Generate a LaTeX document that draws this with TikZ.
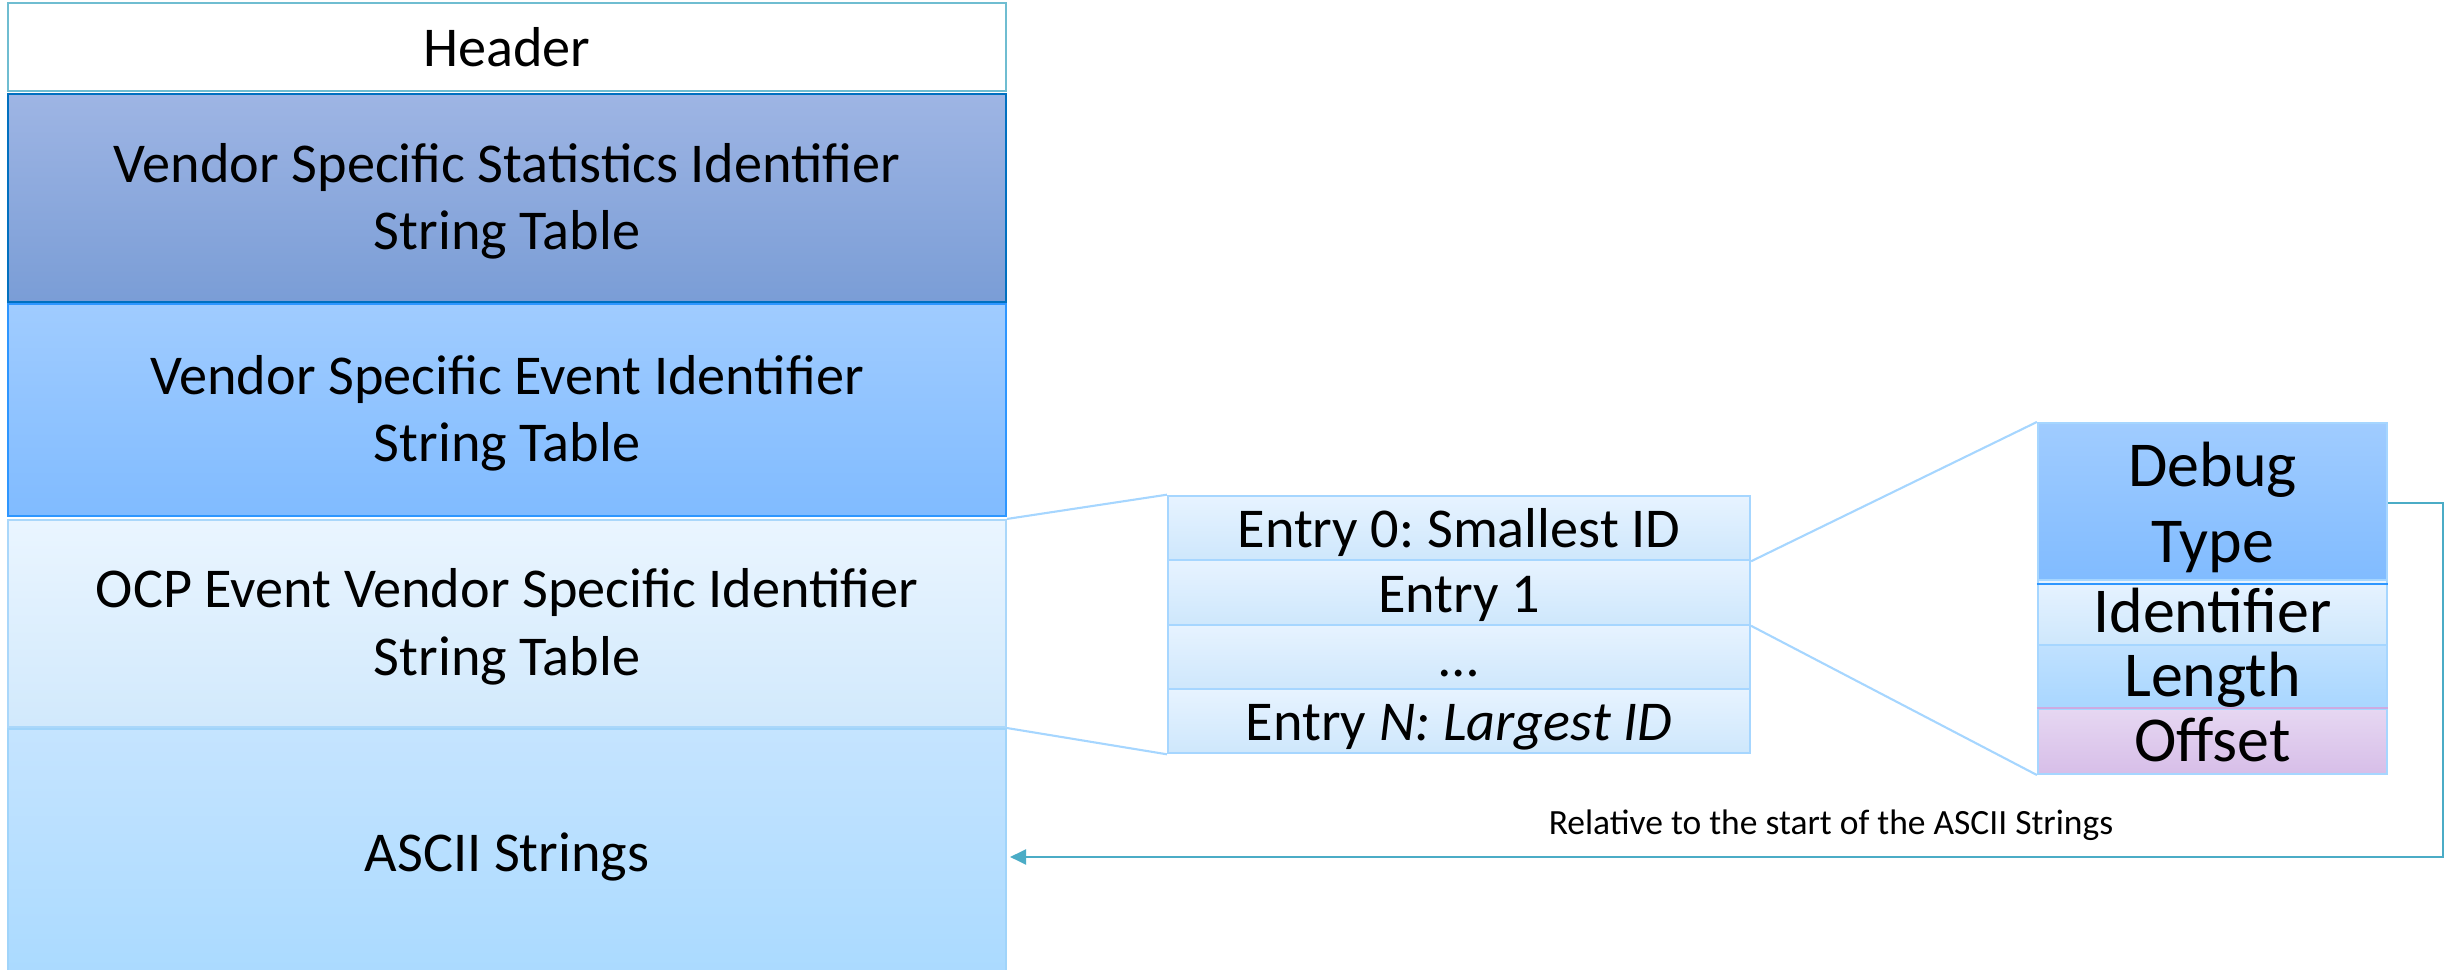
\documentclass[tikz,border=0pt]{standalone}
\usepackage{fontspec}
\setmainfont{Carlito}
\usetikzlibrary{arrows.meta,positioning}
\definecolor{tblTeal}{RGB}{75,172,198}
\definecolor{statTop}{RGB}{158,181,228}
\definecolor{statBot}{RGB}{122,157,214}
\definecolor{statLine}{RGB}{0,112,192}
\definecolor{evtTop}{RGB}{160,204,255}
\definecolor{evtBot}{RGB}{128,187,255}
\definecolor{evtLine}{RGB}{45,150,255}
\definecolor{ocpTop}{RGB}{234,245,255}
\definecolor{ocpBot}{RGB}{209,233,252}
\definecolor{ocpLine}{RGB}{170,215,250}
\definecolor{asciiTop}{RGB}{197,228,255}
\definecolor{asciiBot}{RGB}{170,218,255}
\definecolor{asciiLine}{RGB}{160,212,250}
\definecolor{entTop}{RGB}{231,243,255}
\definecolor{entBot}{RGB}{206,231,252}
\definecolor{entLine}{RGB}{166,214,255}
\definecolor{lenTop}{RGB}{192,225,255}
\definecolor{lenBot}{RGB}{168,214,255}
\definecolor{offTop}{RGB}{230,215,242}
\definecolor{offBot}{RGB}{215,190,232}
\definecolor{offLine}{RGB}{205,170,225}
% two text lines with fixed room above and below
\newcommand{\twolines}[3][0.56cm]{\rule{0pt}{#1}#2\\#3\rule[-0.2cm]{0pt}{0pt}}

\begin{document}
\frenchspacing
\begin{tikzpicture}[
    blk/.style={rectangle, line width=0.6pt, minimum width=9.98cm,
                inner sep=0pt, align=center,
                font=\fontsize{16}{19.3}\selectfont},
    one/.style={text height=0.5cm, text depth=0.1cm},
    ent/.style={rectangle, draw=entLine, line width=0.6pt, one,
                minimum width=5.82cm, minimum height=0.645cm, inner sep=0pt,
                top color=entTop, bottom color=entBot,
                font=\fontsize{16}{19.3}\selectfont},
    fld/.style={rectangle, draw=entLine, line width=0.6pt,
                minimum width=3.49cm, inner sep=0pt, align=center,
                font=\fontsize{18.2}{21.9}\selectfont},
    zoomln/.style={draw=entLine, line width=0.6pt},
    arr/.style={-{Triangle[length=0.16cm,width=0.15cm]}, line width=0.65pt,
                draw=tblTeal, shorten >=0.03cm}
  ]
  \useasboundingbox (0,0) rectangle (24.5,9.7);

  % Log page layout
  \node[blk, one, minimum height=0.88cm, draw=tblTeal!80, fill=white]      (hdr)   at (5.07,9.23)  {Header};
  \node[blk, minimum height=2.08cm, draw=statLine, top color=statTop, bottom color=statBot] (stat) at (5.07,7.72)
       {\twolines{Vendor Specific Statistics Identifier}{String Table}};
  \node[blk, minimum height=2.12cm, draw=evtLine, top color=evtTop, bottom color=evtBot]    (evt)  at (5.07,5.60)
       {\twolines{Vendor Specific Event Identifier}{String Table}};
  \node[blk, minimum height=2.07cm, draw=ocpLine, top color=ocpTop, bottom color=ocpBot]    (ocp)  at (5.07,3.465)
       {\twolines{OCP Event Vendor Specific Identifier}{String Table}};
  \node[blk, one, minimum height=2.46cm, draw=asciiLine, top color=asciiTop, bottom color=asciiBot] (ascii) at (5.07,1.18)
       {ASCII Strings};

  % Table entries
  \node[ent] (e0) at (14.59,4.42)  {Entry 0: Smallest ID};
  \node[ent] (e1) at (14.59,3.775) {Entry 1};
  \node[ent] (e2) at (14.59,3.13)  {…};
  \node[ent] (eN) at (14.59,2.49)  {Entry \textit{N: Largest ID}};
  \draw[zoomln] (ocp.north east) -- (e0.north west);
  \draw[zoomln] (ocp.south east) -- (eN.south west);

  % Entry fields
  \node[fld, minimum height=1.54cm, top color=evtTop, bottom color=evtBot]          (dbg)   at (22.125,4.67)
       {\twolines[0.63cm]{Debug}{Type}};
  \node[fld, one, minimum height=0.65cm, top color=entTop, bottom color=entBot]     (ident) at (22.125,3.575) {Identifier};
  \node[fld, one, minimum height=0.64cm, top color=lenTop, bottom color=lenBot]     (len)   at (22.125,2.93)  {Length};
  \node[fld, one, minimum height=0.65cm, top color=offTop, bottom color=offBot]     (off)   at (22.125,2.285) {Offset};
  \draw[evtLine, line width=0.6pt] (dbg.south west) -- (dbg.south east);
  \draw[offLine, line width=0.6pt] (off.north west) -- (off.north east);
  \draw[zoomln] (e0.south east) -- (dbg.north west);
  \draw[zoomln] (e1.south east) -- (off.south west);

  % Offset reference
  \coordinate (bend) at (24.43,1.13);
  \draw[arr] (dbg.east) -| (bend) -- (bend -| ascii.east);
  \node[font=\fontsize{10.1}{12}\selectfont] (rel) at (18.31,1.45) {Relative to the start of the ASCII Strings};
\end{tikzpicture}
\end{document}
